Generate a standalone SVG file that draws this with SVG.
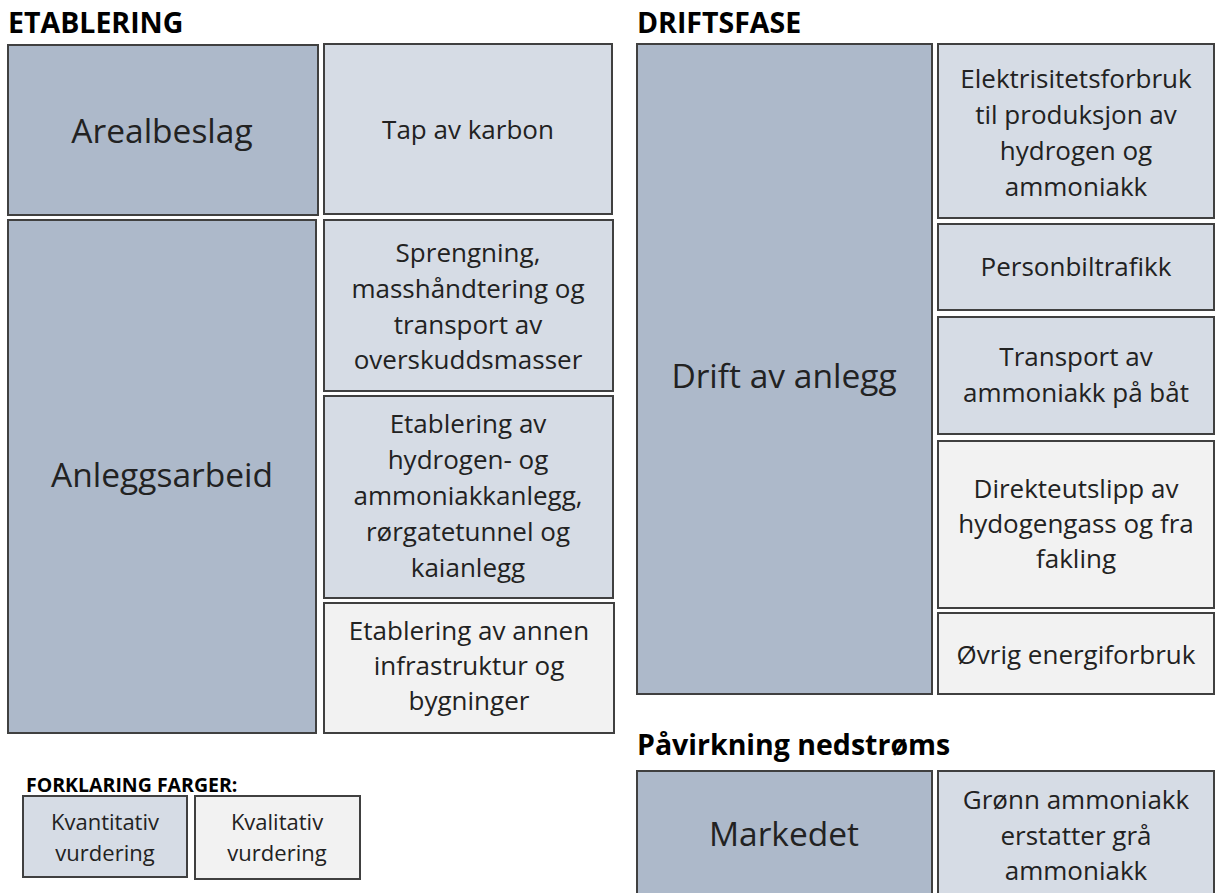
<svg xmlns="http://www.w3.org/2000/svg" width="1215" height="893" viewBox="0 0 1215 893">
<style>
rect{stroke:#404040;stroke-width:2}
.d{fill:#ADB9CA}
.l{fill:#D6DCE5}
.g{fill:#F2F2F2}
text{font-family:"Open Sans","Noto Sans",sans-serif;fill:#222;text-anchor:middle}
.t{font-size:26px}
.b{font-size:33.5px}
.h{font-weight:bold;font-size:28.5px;fill:#000;text-anchor:start}
.lg{font-size:22px}
.hs{font-weight:bold;font-size:19.5px;fill:#000;text-anchor:start}
</style>
<rect width="1215" height="893" fill="#fff" style="stroke:none"/>
<g id="headings">
<text class="h" x="8" y="33">ETABLERING</text>
<text class="h" x="637" y="33">DRIFTSFASE</text>
<text class="h" x="637" y="755">Påvirkning nedstrøms</text>
</g>
<g id="arealbeslag"><rect class="d" x="8" y="45" width="310" height="170"/><text class="b" x="162" y="143">Arealbeslag</text></g>
<g id="anleggsarbeid"><rect class="d" x="8" y="220" width="308" height="513"/><text class="b" x="162" y="487">Anleggsarbeid</text></g>
<g id="tap-av-karbon"><rect class="l" x="324" y="44" width="288" height="170"/><text class="t" x="468" y="139">Tap av karbon</text></g>
<g id="sprengning"><rect class="l" x="324" y="220" width="289" height="171"/><text class="t" x="468" y="262">Sprengning,</text><text class="t" x="468" y="298">masshåndtering og</text><text class="t" x="468" y="334">transport av</text><text class="t" x="468" y="369">overskuddsmasser</text></g>
<g id="etablering-hydrogen"><rect class="l" x="324" y="396" width="289" height="202"/><text class="t" x="468" y="433">Etablering av</text><text class="t" x="468" y="469">hydrogen- og</text><text class="t" x="468" y="505">ammoniakkanlegg,</text><text class="t" x="468" y="541">rørgatetunnel og</text><text class="t" x="468" y="577">kaianlegg</text></g>
<g id="etablering-annen"><rect class="g" x="324" y="603" width="290" height="130"/><text class="t" x="469" y="640">Etablering av annen</text><text class="t" x="469" y="675">infrastruktur og</text><text class="t" x="469" y="710">bygninger</text></g>
<g id="drift-av-anlegg"><rect class="d" x="637" y="44" width="295" height="650"/><text class="b" x="784" y="388">Drift av anlegg</text></g>
<g id="elektrisitet"><rect class="l" x="938" y="44" width="276" height="174"/><text class="t" x="1076" y="88">Elektrisitetsforbruk</text><text class="t" x="1076" y="124">til produksjon av</text><text class="t" x="1076" y="160">hydrogen og</text><text class="t" x="1076" y="196">ammoniakk</text></g>
<g id="personbil"><rect class="l" x="938" y="224" width="276" height="86"/><text class="t" x="1076" y="276">Personbiltrafikk</text></g>
<g id="transport"><rect class="l" x="938" y="317" width="276" height="117"/><text class="t" x="1076" y="366">Transport av</text><text class="t" x="1076" y="402">ammoniakk på båt</text></g>
<g id="direkteutslipp"><rect class="g" x="938" y="441" width="276" height="167"/><text class="t" x="1076" y="498">Direkteutslipp av</text><text class="t" x="1076" y="533">hydogengass og fra</text><text class="t" x="1076" y="568">fakling</text></g>
<g id="ovrig"><rect class="g" x="938" y="613" width="276" height="81"/><text class="t" x="1076" y="664">Øvrig energiforbruk</text></g>
<g id="markedet"><rect class="d" x="637" y="771" width="295" height="130"/><text class="b" x="784" y="846">Markedet</text></g>
<g id="gronn"><rect class="l" x="938" y="771" width="276" height="130"/><text class="t" x="1076" y="809">Grønn ammoniakk</text><text class="t" x="1076" y="845">erstatter grå</text><text class="t" x="1076" y="880">ammoniakk</text></g>
<g id="legend">
<text class="hs" x="26" y="792">FORKLARING FARGER:</text>
<rect class="l" x="23" y="796" width="164" height="81"/>
<text class="lg" x="105" y="830">Kvantitativ</text><text class="lg" x="105" y="861">vurdering</text>
<rect class="g" x="195" y="796" width="165" height="83"/>
<text class="lg" x="277" y="830">Kvalitativ</text><text class="lg" x="277" y="861">vurdering</text>
</g>
<g id="connectors"/>
</svg>
